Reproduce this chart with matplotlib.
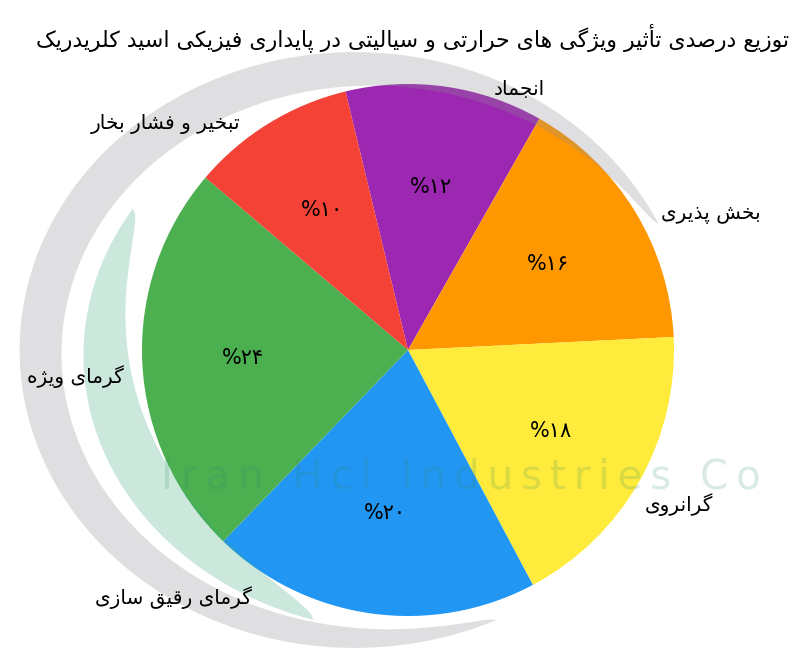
import numpy as np
import matplotlib.pyplot as plt
from matplotlib.path import Path
from matplotlib.patches import PathPatch

# ---- data ----
categories = ['انجماد', 'بخش پذیری', 'گرانروی', 'گرمای رقیق سازی', 'گرمای ویژه', 'تبخیر و فشار بخار']
values = [12, 16, 18, 20, 24, 10]
colors = ['#9C27B0', '#FF9800', '#FFEB3B', '#2196F3', '#4CAF50', '#F44336']
title = 'توزیع درصدی تأثیر ویژگی های حرارتی و سیالیتی در پایداری فیزیکی اسید کلریدریک'

# label anchor points (data units, pie radius = 1)
label_pos = [(0.42, 0.98), (1.14, 0.51), (1.02, -0.58), (-0.88, -0.93), (-1.25, -0.10), (-0.91, 0.85)]

# ---- simple persian shaping (matplotlib has no bidi / joining) ----
# isolated, final, initial, medial
FORMS = {
    'ا': (0xFE8D, 0xFE8E), 'أ': (0xFE83, 0xFE84), 'د': (0xFEA9, 0xFEAA),
    'ذ': (0xFEAB, 0xFEAC), 'ر': (0xFEAD, 0xFEAE), 'ز': (0xFEAF, 0xFEB0),
    'و': (0xFEED, 0xFEEE), 'ژ': (0xFB8A, 0xFB8B),
    'ب': (0xFE8F, 0xFE90, 0xFE91, 0xFE92), 'ت': (0xFE95, 0xFE96, 0xFE97, 0xFE98),
    'ث': (0xFE99, 0xFE9A, 0xFE9B, 0xFE9C), 'ج': (0xFE9D, 0xFE9E, 0xFE9F, 0xFEA0),
    'ح': (0xFEA1, 0xFEA2, 0xFEA3, 0xFEA4), 'خ': (0xFEA5, 0xFEA6, 0xFEA7, 0xFEA8),
    'س': (0xFEB1, 0xFEB2, 0xFEB3, 0xFEB4), 'ش': (0xFEB5, 0xFEB6, 0xFEB7, 0xFEB8),
    'ص': (0xFEB9, 0xFEBA, 0xFEBB, 0xFEBC), 'ع': (0xFEC9, 0xFECA, 0xFECB, 0xFECC),
    'ف': (0xFED1, 0xFED2, 0xFED3, 0xFED4), 'ق': (0xFED5, 0xFED6, 0xFED7, 0xFED8),
    'ل': (0xFEDD, 0xFEDE, 0xFEDF, 0xFEE0), 'م': (0xFEE1, 0xFEE2, 0xFEE3, 0xFEE4),
    'ن': (0xFEE5, 0xFEE6, 0xFEE7, 0xFEE8), 'ه': (0xFEE9, 0xFEEA, 0xFEEB, 0xFEEC),
    'ک': (0xFB8E, 0xFB8F, 0xFB90, 0xFB91), 'گ': (0xFB92, 0xFB93, 0xFB94, 0xFB95),
    'پ': (0xFB56, 0xFB57, 0xFB58, 0xFB59), 'ی': (0xFBFC, 0xFBFD, 0xFBFE, 0xFBFF),
}


def fa(text):
    out = []
    for i, c in enumerate(text):
        if c not in FORMS:
            out.append(c)
            continue
        prev = text[i - 1] if i > 0 else ''
        nxt = text[i + 1] if i + 1 < len(text) else ''
        p = prev in FORMS and len(FORMS[prev]) == 4
        n = len(FORMS[c]) == 4 and nxt in FORMS
        f = FORMS[c]
        if p and n:
            out.append(chr(f[3]))
        elif p:
            out.append(chr(f[1]))
        elif n:
            out.append(chr(f[2]))
        else:
            out.append(chr(f[0]))
    return ''.join(out)[::-1]


def fa_pct(p):
    digits = '۰۱۲۳۴۵۶۷۸۹'
    return '%' + ''.join(digits[int(d)] for d in str(int(round(p))))


def swoosh(ax, cx, cy, rx, ry, a0, a1, wmax, color, alpha):
    # tapered crescent, used for the faint logo over the chart
    t = np.radians(np.linspace(a0, a1, 240))
    w = wmax * np.sin(np.linspace(0, np.pi, 240)) ** 0.6
    outer = np.column_stack([cx + rx * np.cos(t), cy + ry * np.sin(t)])
    inner = np.column_stack([cx + (rx - w) * np.cos(t), cy + (ry - w) * np.sin(t)])[::-1]
    verts = np.vstack([outer, inner, outer[:1]])
    codes = [Path.MOVETO] + [Path.LINETO] * (len(verts) - 2) + [Path.CLOSEPOLY]
    ax.add_patch(PathPatch(Path(verts, codes), facecolor=color, edgecolor='none', alpha=alpha, zorder=3))


plt.rcParams['font.family'] = ['DejaVu Sans']

fig = plt.figure(figsize=(8, 6.66), dpi=100)
ax = fig.add_axes([0, 0, 1, 1])

wedges, texts, autotexts = ax.pie(values, colors=colors, startangle=103.6, counterclock=False,
                                  autopct=fa_pct, pctdistance=0.62, radius=1,
                                  wedgeprops=dict(linewidth=0, zorder=2),
                                  textprops=dict(fontsize=15, color='black', zorder=6))
ax.set_xlim(-408 / 266, 392 / 266)
ax.set_ylim(-316 / 266, 350 / 266)
ax.axis('off')

for name, (x, y) in zip(categories, label_pos):
    ax.text(x, y, fa(name), ha='center', va='center', fontsize=14.5, color='black', zorder=6)

# faint logo / watermark
swoosh(ax, -0.2, 0.0, 1.26, 1.12, 25, 295, 0.16, '#8e8e96', 0.28)
swoosh(ax, 0.0, -0.02, 1.22, 1.04, 148, 253, 0.19, '#3aa878', 0.26)
ax.text(0.2, -0.48, '\u2009'.join('Iran Hcl Industries Co'), ha='center', va='center',
        fontsize=29, color='#2e8b6a', alpha=0.18, zorder=5)

fig.text(0.515, 0.943, fa(title), ha='center', va='center', fontsize=15.8, color='black')

fig.savefig('out.png', dpi=100)
